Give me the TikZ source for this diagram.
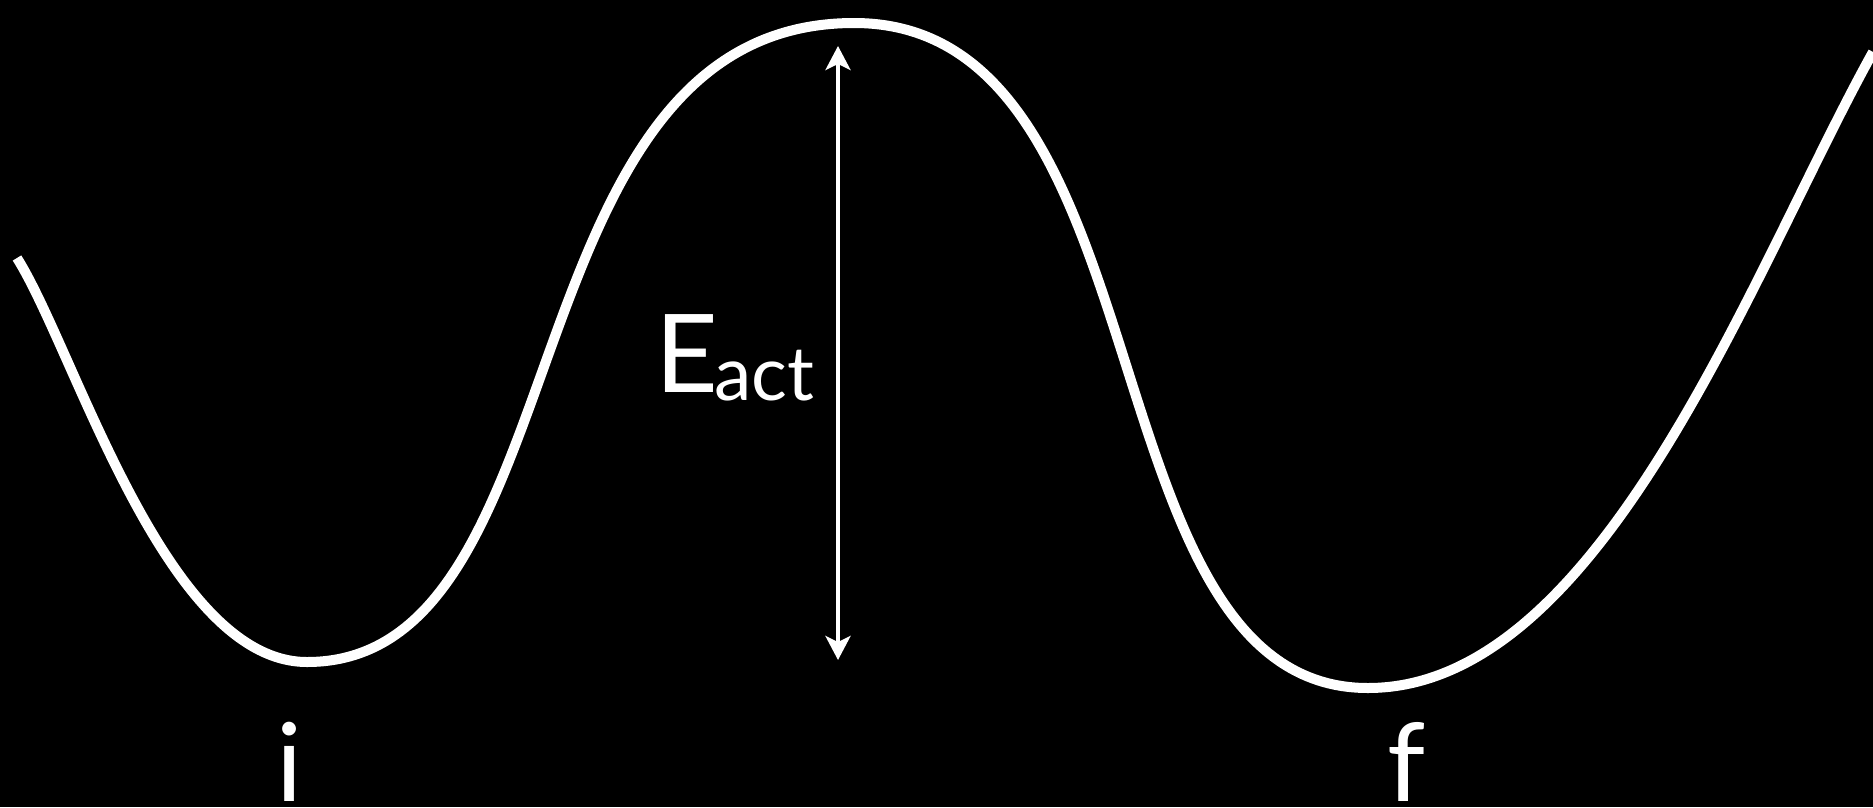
\documentclass[tikz,border=0pt]{standalone}
\usepackage{fontspec}
\setmainfont{Lato}
\usetikzlibrary{arrows.meta}
\definecolor{slideink}{HTML}{FFFFFF}
\definecolor{slideback}{HTML}{000000}

\begin{document}
\begin{tikzpicture}[
  x=0.4pt,
  y=-0.4pt,
  every node/.style={font=\fontsize{43.5}{48}\selectfont, slideink},
  profile/.style={slideink, line width=4pt},
  barrier/.style={slideink, line width=1.6pt,
                  {Stealth[length=9.6pt, width=10pt, inset=2.4pt]}-{Stealth[length=9.6pt, width=10pt, inset=2.4pt]}},
  state/.style={anchor=base, inner sep=0pt}
]
  % ---- slide, frame of the whole picture ---------------------------------
  \useasboundingbox (0,0) rectangle (1873,807);
  \fill[slideback] (0,0) rectangle (1873,807);

  % ---- energy profile: well i, barrier, well f ---------------------------
  \coordinate (leftend) at (17,258);
  \coordinate (wellinitial) at (307,662);
  \coordinate (saddle) at (854,23);
  \coordinate (wellfinal) at (1368,688);
  \coordinate (rightend) at (1873,52);
  \draw[profile] (leftend)
    .. controls (75,350) and (165,662) .. (wellinitial)
    .. controls (585,662) and (502,23) .. (saddle)
    .. controls (1172,23) and (1082,688) .. (wellfinal)
    .. controls (1603,688) and (1753,268) .. (rightend);

  % ---- height of the barrier ---------------------------------------------
  \coordinate (barriertop) at (838,46);
  \coordinate (barrierfoot) at (838,660);
  \draw[barrier] (barrierfoot) -- (barriertop);
  \node[anchor=base west, inner sep=0pt] (eact) at (655,392)
    {E\kern-1.5pt\raisebox{-3.2pt}{\fontsize{30}{32}\selectfont act}};

  % ---- the two states ----------------------------------------------------
  \node[state] (initial) at (290,801) {i};
  \node[state] (final) at (1407,801) {f};

\end{tikzpicture}
\end{document}
